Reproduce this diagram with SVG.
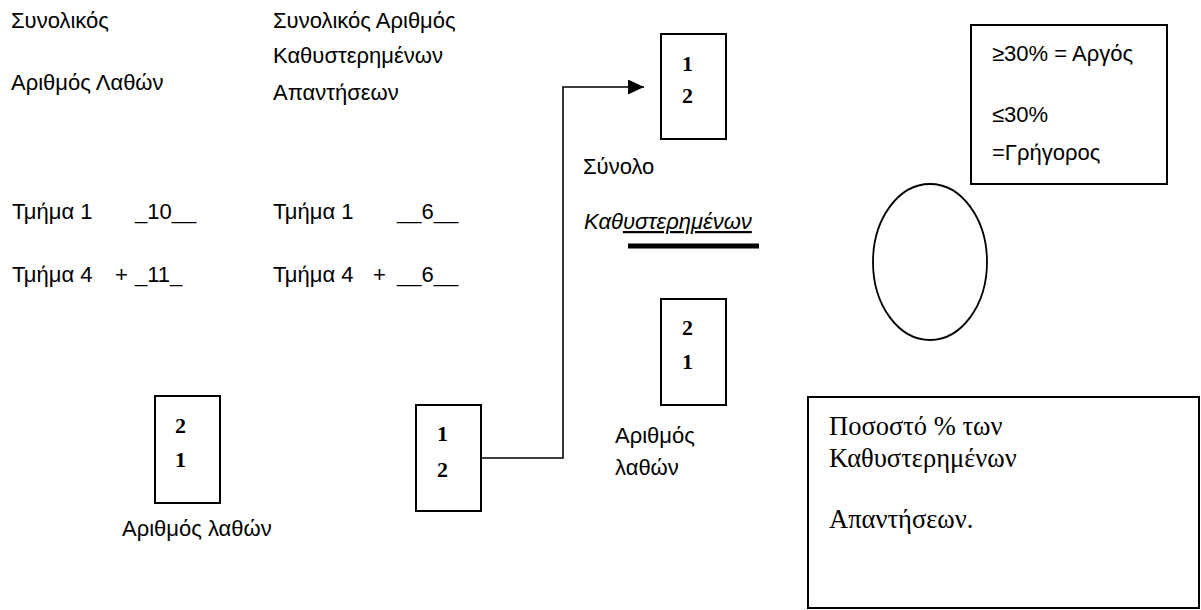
<svg xmlns="http://www.w3.org/2000/svg" width="1201" height="610" viewBox="0 0 1201 610">
<defs>
<style>
.s{font-family:"Liberation Sans",Arial,sans-serif;font-size:22px;fill:#000}
.i{font-style:italic}
.d{font-family:"Liberation Serif","Times New Roman",serif;font-size:22px;font-weight:bold;fill:#000}
.r{font-family:"Liberation Serif","Times New Roman",serif;font-size:26.5px;fill:#000}
.box{fill:#fff;stroke:#000;stroke-width:2}
.ln{fill:none;stroke:#000;stroke-width:1.6}
</style>
<marker id="ah" markerWidth="16" markerHeight="15" refX="16" refY="7.5" orient="auto" markerUnits="userSpaceOnUse">
<path d="M0,0 L16,7.5 L0,15 Z" fill="#000"/>
</marker>
</defs>
<rect width="1201" height="610" fill="#fff"/>

<g id="texts">
<text class="s" x="11" y="28">Συνολικός</text>
<text class="s" x="11" y="90">Αριθμός Λαθών</text>
<text class="s" x="273" y="28">Συνολικός Αριθμός</text>
<text class="s" x="273" y="63">Καθυστερημένων</text>
<text class="s" x="273" y="100">Απαντήσεων</text>
<text class="s" x="12" y="219">Τμήμα 1</text>
<text class="s" x="135" y="219">_10__</text>
<text class="s" x="12" y="282">Τμήμα 4</text>
<text class="s" x="115" y="282">+</text>
<text class="s" x="135" y="282">_11_</text>
<text class="s" x="273" y="219">Τμήμα 1</text>
<text class="s" x="397" y="219">__6__</text>
<text class="s" x="273" y="282">Τμήμα 4</text>
<text class="s" x="373" y="282">+</text>
<text class="s" x="397" y="282">__6__</text>
<text class="s" x="583" y="174">Σύνολο</text>
<text class="s i" x="584" y="229">Καθ<tspan text-decoration="underline">υστερημένων</tspan></text>
</g>
<rect x="628" y="243.5" width="131" height="5" fill="#000"/>

<g id="connectors">
<polyline class="ln" points="481,458 563,458 563,87 644,87" marker-end="url(#ah)"/>
</g>

<g id="box-total">
<rect class="box" x="661" y="34" width="65" height="105"/>
<text class="d" x="682" y="71">1</text>
<text class="d" x="682" y="103">2</text>
</g>

<g id="box-errors-right">
<rect class="box" x="661" y="299" width="65" height="106"/>
<text class="d" x="682" y="335">2</text>
<text class="d" x="682" y="369">1</text>
<text class="s" x="615" y="443">Αριθμός</text>
<text class="s" x="615" y="475">λαθών</text>
</g>

<g id="box-errors-left">
<rect class="box" x="155" y="396" width="65" height="107"/>
<text class="d" x="175" y="433">2</text>
<text class="d" x="175" y="467">1</text>
<text class="s" x="122" y="536">Αριθμός λαθών</text>
</g>

<g id="box-source">
<rect class="box" x="416" y="405" width="65" height="106"/>
<text class="d" x="437" y="441">1</text>
<text class="d" x="437" y="477">2</text>
</g>

<g id="legend">
<rect class="box" x="971" y="25" width="196" height="159"/>
<text class="s" x="992" y="61">≥30% = Αργός</text>
<text class="s" x="992" y="122">≤30%</text>
<text class="s" x="992" y="160">=Γρήγορος</text>
</g>

<g id="ellipse">
<ellipse cx="930" cy="262" rx="57" ry="78" fill="#fff" stroke="#000" stroke-width="1.8"/>
</g>

<g id="percentage">
<rect class="box" x="808" y="397" width="391" height="211"/>
<text class="r" x="829" y="435">Ποσοστό % των</text>
<text class="r" x="829" y="467">Καθυστερημένων</text>
<text class="r" x="829" y="528">Απαντήσεων.</text>
</g>
</svg>
